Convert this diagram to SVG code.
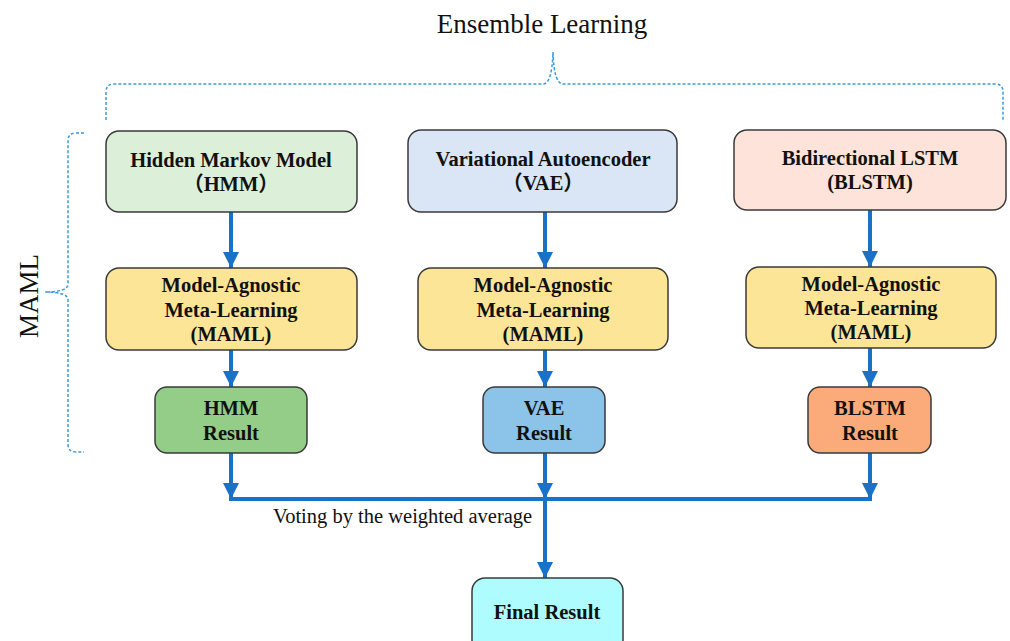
<svg xmlns="http://www.w3.org/2000/svg" width="1010" height="641" viewBox="0 0 1010 641">
<defs>
<style>
.box{stroke:#3a3a3a;stroke-width:1.5}
.t{font-family:"Liberation Serif","Noto Sans CJK SC",serif;font-weight:bold;font-size:20.5px;fill:#111;text-anchor:middle}
.lbl{font-family:"Liberation Serif",serif;fill:#111}
.con{stroke:#1a72c8;stroke-width:4;fill:none}
.brace{stroke:#3a9ad9;stroke-width:1.5;fill:none;stroke-dasharray:3,2}
</style>
<marker id="ah" markerUnits="userSpaceOnUse" markerWidth="16" markerHeight="16" viewBox="0 0 16 16" refX="16" refY="8" orient="auto">
<path d="M0,0 L16,8 L0,16 Z" fill="#1a72c8"/>
</marker>
</defs>
<rect width="1010" height="641" fill="#fff"/>
<text class="lbl" x="542" y="33" font-size="27" text-anchor="middle">Ensemble Learning</text>
<text class="lbl" x="0" y="0" font-size="27" text-anchor="middle" transform="translate(38,296) rotate(-90)">MAML</text>
<g id="braces">
<path class="brace" d="M106,120 L106,92 Q106,84 114,84 L543,84 Q552,84 553,52 Q554,84 563,84 L995,84 Q1003,84 1003,92 L1003,120"/>
<path class="brace" d="M84,133 L76,133 Q68,133 68,141 L68,284 Q68,292 45,292 Q68,292 68,300 L68,444 Q68,452 76,452 L84,452"/>
</g>
<g id="connectors">
<line class="con" x1="231" y1="212" x2="231" y2="268" marker-end="url(#ah)"/>
<line class="con" x1="231" y1="350" x2="231" y2="387" marker-end="url(#ah)"/>
<line class="con" x1="231" y1="453" x2="231" y2="499" marker-end="url(#ah)"/>
<line class="con" x1="545" y1="212" x2="545" y2="268" marker-end="url(#ah)"/>
<line class="con" x1="545" y1="350" x2="545" y2="387" marker-end="url(#ah)"/>
<line class="con" x1="545" y1="453" x2="545" y2="499" marker-end="url(#ah)"/>
<line class="con" x1="870" y1="210" x2="870" y2="267" marker-end="url(#ah)"/>
<line class="con" x1="870" y1="348" x2="870" y2="387" marker-end="url(#ah)"/>
<line class="con" x1="870" y1="453" x2="870" y2="499" marker-end="url(#ah)"/>
<line class="con" x1="229" y1="499" x2="872" y2="499"/>
<line class="con" x1="545" y1="499" x2="545" y2="578" marker-end="url(#ah)"/>
<text class="lbl" x="273" y="523" font-size="20.5">Voting by the weighted average</text>
</g>
<g id="hmm">
<rect class="box" x="106" y="131" width="251" height="81" rx="13" fill="#dcefd8"/>
<text class="t" x="231" y="167">Hidden Markov Model</text>
<text class="t" x="231" y="191">（HMM）</text>
</g>
<g id="vae">
<rect class="box" x="408" y="130" width="269" height="82" rx="13" fill="#dae6f5"/>
<text class="t" x="543" y="166">Variational Autoencoder</text>
<text class="t" x="543" y="190">（VAE）</text>
</g>
<g id="blstm">
<rect class="box" x="734" y="130" width="272" height="80" rx="13" fill="#fde3d9"/>
<text class="t" x="870" y="165">Bidirectional LSTM</text>
<text class="t" x="870" y="189">(BLSTM)</text>
</g>
<g id="maml1">
<rect class="box" x="106" y="268" width="251" height="82" rx="13" fill="#fde597"/>
<text class="t" x="231" y="292">Model-Agnostic</text>
<text class="t" x="231" y="317">Meta-Learning</text>
<text class="t" x="231" y="341">(MAML)</text>
</g>
<g id="maml2">
<rect class="box" x="418" y="268" width="250" height="82" rx="13" fill="#fde597"/>
<text class="t" x="543" y="292">Model-Agnostic</text>
<text class="t" x="543" y="317">Meta-Learning</text>
<text class="t" x="543" y="341">(MAML)</text>
</g>
<g id="maml3">
<rect class="box" x="746" y="267" width="250" height="81" rx="13" fill="#fde597"/>
<text class="t" x="871" y="291">Model-Agnostic</text>
<text class="t" x="871" y="315">Meta-Learning</text>
<text class="t" x="871" y="339">(MAML)</text>
</g>
<g id="hmm_result">
<rect class="box" x="155" y="387" width="152" height="66" rx="12" fill="#93cd87"/>
<text class="t" x="231" y="415">HMM</text>
<text class="t" x="231" y="440">Result</text>
</g>
<g id="vae_result">
<rect class="box" x="483" y="387" width="122" height="66" rx="12" fill="#8cc3e8"/>
<text class="t" x="544" y="415">VAE</text>
<text class="t" x="544" y="440">Result</text>
</g>
<g id="blstm_result">
<rect class="box" x="808" y="387" width="123" height="66" rx="12" fill="#fbab79"/>
<text class="t" x="870" y="415">BLSTM</text>
<text class="t" x="870" y="440">Result</text>
</g>
<g id="final">
<rect class="box" x="472" y="578" width="151" height="75" rx="13" fill="#aefcfd"/>
<text class="t" x="547" y="619">Final Result</text>
</g>
</svg>
